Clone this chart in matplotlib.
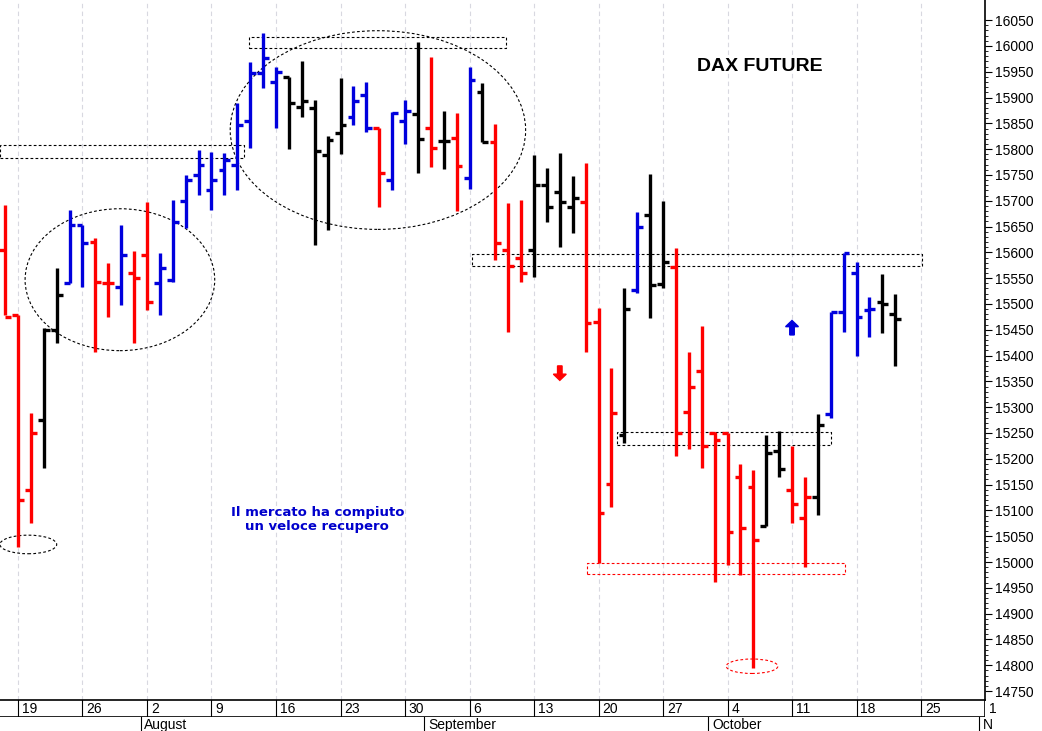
import matplotlib
matplotlib.use("Agg")
import matplotlib.pyplot as plt
from matplotlib.patches import Ellipse, Rectangle, FancyArrow

plt.rcParams['font.family'] = ['Liberation Sans Narrow', 'Liberation Sans', 'DejaVu Sans']

# Daily bars, Jul 16 .. Oct 21 (trading days, index 0 = Jul 19)
highs = [15692, 15478, 15289, 15453, 15570, 15682,
         15653, 15628, 15579, 15653, 15603,
         15698, 15599, 15701, 15750, 15798,
         15794, 15792, 15889, 15969, 16025,
         15959, 15940, 15971, 15895, 15825,
         15938, 15922, 15930, 15841, 15872,
         15895, 16007, 15978, 15874, 15870,
         15959, 15928, 15848, 15695, 15701,
         15788, 15763, 15792, 15748, 15773,
         15492, 15376, 15531, 15678, 15752,
         15699, 15608, 15407, 15457, 15252,
         15250, 15190, 15178, 15246, 15254,
         15225, 15165, 15287, 15484, 15599,
         15581, 15513, 15558, 15519]
lows = [15478, 15029, 15075, 15182, 15424, 15540,
        15532, 15407, 15475, 15498, 15424,
        15488, 15478, 15542, 15647, 15711,
        15682, 15711, 15720, 15802, 15918,
        15841, 15800, 15862, 15614, 15643,
        15790, 15847, 15833, 15688, 15721,
        15810, 15754, 15765, 15761, 15680,
        15723, 15814, 15585, 15445, 15542,
        15552, 15659, 15610, 15637, 15407,
        14998, 15106, 15230, 15521, 15473,
        15531, 15205, 15219, 15182, 14961,
        14994, 14975, 14795, 15070, 15165,
        15075, 14990, 15091, 15279, 15445,
        15399, 15436, 15443, 15380]
opens = [15605, 15478, 15140, 15275, 15450, 15540,
         15653, 15620, 15540, 15532, 15560,
         15595, 15540, 15546, 15700, 15750,
         15720, 15760, 15770, 15854, 15947,
         15930, 15940, 15881, 15880, 15788,
         15831, 15862, 15905, 15841, 15740,
         15854, 15868, 15841, 15816, 15821,
         15744, 15910, 15814, 15604, 15589,
         15604, 15730, 15717, 15688, 15697,
         15465, 15151, 15246, 15527, 15672,
         15538, 15571, 15290, 15370, 15250,
         15250, 15165, 15145, 15070, 15215,
         15139, 15085, 15126, 15287, 15484,
         15560, 15488, 15504, 15480]
closes = [15475, 15120, 15250, 15450, 15517, 15653,
          15618, 15542, 15540, 15595, 15550,
          15504, 15570, 15659, 15740, 15769,
          15740, 15778, 15847, 15947, 15976,
          15949, 15889, 15893, 15796, 15817,
          15847, 15893, 15841, 15754, 15870,
          15874, 15819, 15802, 15816, 15767,
          15934, 15814, 15618, 15573, 15560,
          15730, 15688, 15697, 15705, 15463,
          15095, 15289, 15490, 15649, 15537,
          15581, 15250, 15339, 15225, 15236,
          15058, 15066, 15043, 15211, 15180,
          15112, 15126, 15265, 15484, 15599,
          15475, 15490, 15500, 15471]
colors = list("rrrkkb" "brrbr" "rbbbb" "bbbbb" "bkkkk" "kbbrb" "bkrkr"
              "bkrrr" "kkkkr" "rrkbk" "krrrr" "rrrkk" "rrkbb" "bbkk")

mondays = ['19', '26', '2', '9', '16', '23', '30', '6', '13', '20', '27', '4', '11', '18', '25', '1']
months = ['August', 'September', 'October', 'N']
month_day = [10, 32, 54, 75]  # trading-day index of the 1st of each month

cmap = {'r': '#ff0000', 'b': '#0000dd', 'k': '#000000'}
days = list(range(-1, len(highs) - 1))

fig = plt.figure(figsize=(10.42, 7.31), dpi=100)
ax = fig.add_axes([0, 1 - 700 / 731, 985 / 1042, 700 / 731])
ax.set_xlim(-1.395, 74.96)
ax.set_ylim(14732.6, 16089)

for w in range(len(mondays)):
    ax.axvline(w * 5, color='#d8d8e0', lw=0.8, ls=(0, (4, 3)), zorder=0)

for d, h, l, o, c, col in zip(days, highs, lows, opens, closes, colors):
    cc = cmap[col]
    ax.plot([d, d], [l, h], color=cc, lw=2.4, solid_capstyle='butt')
    ax.plot([d - 0.45, d], [o, o], color=cc, lw=2.4, solid_capstyle='butt')
    ax.plot([d, d + 0.45], [c, c], color=cc, lw=2.4, solid_capstyle='butt')

dash = dict(fill=False, ls=(0, (2.5, 2)), lw=0.8)
ax.add_patch(Rectangle((-1.4, 15782), 18.9, 26, ec='black', **dash))
ax.add_patch(Rectangle((17.9, 15996), 19.9, 21, ec='black', **dash))
ax.add_patch(Rectangle((35.2, 15573), 34.9, 24, ec='black', **dash))
ax.add_patch(Rectangle((46.4, 15227), 16.6, 25, ec='black', **dash))
ax.add_patch(Rectangle((44.1, 14977), 20.0, 21, ec='red', **dash))
ax.add_patch(Ellipse((7.9, 15547), 14.7, 275, ec='black', **dash))
ax.add_patch(Ellipse((27.9, 15837), 22.9, 385, ec='black', **dash))
ax.add_patch(Ellipse((0.8, 15034), 4.4, 36, ec='black', **dash))
ax.add_patch(Ellipse((56.9, 14798), 4.0, 28, ec='red', **dash))

ax.add_patch(FancyArrow(42.0, 15380, 0, -28, width=0.35, head_width=1.0,
                        head_length=12, length_includes_head=True, color='#ff0000'))
ax.add_patch(FancyArrow(60.0, 15440, 0, 28, width=0.35, head_width=1.0,
                        head_length=12, length_includes_head=True, color='#0000dd'))

ax.text(57.5, 15960, 'DAX FUTURE', fontsize=14, fontweight='bold',
        family=['Liberation Sans', 'DejaVu Sans'], ha='center', va='center')
ax.text(23.2, 15082, 'Il mercato ha compiuto\nun veloce recupero', color='#0000cc',
        fontsize=9.5, fontweight='bold', family=['DejaVu Sans'],
        ha='center', va='center', linespacing=1.1)

ax.set_xticks([])
ax.yaxis.tick_right()
ax.set_yticks(range(14750, 16051, 50))
ax.set_yticks(range(14750, 16051, 10), minor=True)
ax.tick_params(axis='y', which='major', length=5, labelsize=10, pad=2)
ax.tick_params(axis='y', which='minor', length=2)
for s in ['top', 'left']:
    ax.spines[s].set_visible(False)
ax.spines['bottom'].set_linewidth(1.2)
ax.spines['right'].set_linewidth(1.2)

# date row
ax2 = fig.add_axes([0, 1 - 717 / 731, 985 / 1042, 17 / 731])
ax2.set_xlim(ax.get_xlim())
ax2.set_ylim(0, 1)
ax2.axis('off')
for w, lab in enumerate(mondays):
    ax2.plot([w * 5, w * 5], [0, 1], color='black', lw=0.8)
    ax2.text(w * 5 + 0.3, 0.45, lab, fontsize=10, ha='left', va='center')
ax2.plot([-1.4, 74.96], [0, 0], color='black', lw=1.2)
ax2.plot([74.96, 74.96], [0, 1], color='black', lw=1.2)
for m, x in zip(months, month_day):
    ax2.plot([x - 0.5, x - 0.5], [0, -0.8], color='black', lw=0.8, clip_on=False)
    ax2.text(x - 0.2, -0.45, m, fontsize=10, ha='left', va='center', clip_on=False)

fig.savefig('out.png', dpi=100)
